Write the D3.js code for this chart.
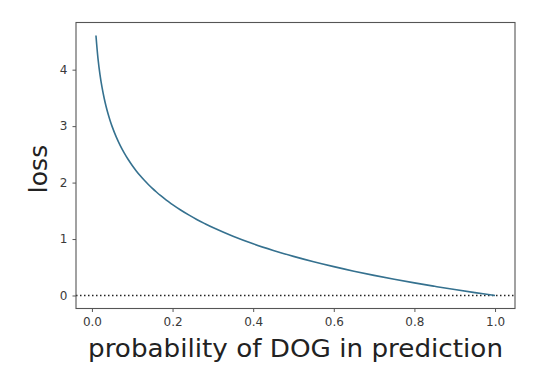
<!DOCTYPE html>
<html><head><meta charset="utf-8">
<script src="https://cdn.jsdelivr.net/npm/d3@7"></script>
<style>body{margin:0;background:#fff}svg{display:block}</style>
</head><body>
<svg id="c" width="554" height="379"></svg>
<script>
const probs = [0.01,0.015,0.02,0.025,0.03,0.035,0.04,0.045,0.05,0.06,0.07,0.08,0.09,0.10,0.11,0.12,0.13,0.14,0.15,0.16,0.17,0.18,0.19,0.20,0.22,0.24,0.26,0.28,0.30,0.35,0.40,0.45,0.50,0.55,0.60,0.65,0.70,0.75,0.80,0.85,0.90,0.95,1.00];
const losses = [4.605,4.200,3.912,3.689,3.507,3.352,3.219,3.101,2.996,2.813,2.659,2.526,2.408,2.303,2.207,2.120,2.040,1.966,1.897,1.833,1.772,1.715,1.661,1.609,1.514,1.427,1.347,1.273,1.204,1.050,0.916,0.799,0.693,0.598,0.511,0.431,0.357,0.288,0.223,0.163,0.105,0.051,0.000];
const xTicks = [0.0,0.2,0.4,0.6,0.8,1.0];
const yTicks = [0,1,2,3,4];
const xLabel = "probability of DOG in prediction";
const yLabel = "loss";

const svg = d3.select("#c");
const L=76, R=515, T=22.5, B=308.5;
const x = d3.scaleLinear().domain([-0.0395,1.0495]).range([L,R]);
const y = d3.scaleLinear().domain([-0.2303,4.8355]).range([B,T]);

const font = "DejaVu Sans, sans-serif";
const xa = svg.append("g").attr("transform",`translate(0,${B})`)
  .call(d3.axisBottom(x).tickValues(xTicks).tickFormat(d3.format(".1f")).tickSize(3.5).tickPadding(5.5));
const ya = svg.append("g").attr("transform",`translate(${L},0)`)
  .call(d3.axisLeft(y).tickValues(yTicks).tickFormat(d3.format("d")).tickSize(3.5).tickPadding(5));
[xa,ya].forEach(a=>{
  a.select(".domain").remove();
  a.selectAll("line").attr("stroke","#444").attr("stroke-width",0.9);
  a.selectAll("text").attr("font-family",font).attr("font-size",12).attr("fill","#3a3a3a");
});

svg.append("line").attr("x1",L).attr("x2",R).attr("y1",y(0)).attr("y2",y(0))
  .attr("stroke","#222").attr("stroke-width",1.5).attr("stroke-dasharray","1.5,2.5");

const line = d3.line().x((d,i)=>x(probs[i])).y(d=>y(d)).curve(d3.curveCatmullRom.alpha(0.5));
svg.append("path").datum(losses).attr("d",line).attr("fill","none")
  .attr("stroke","#35718f").attr("stroke-width",1.6);

svg.append("rect").attr("x",L).attr("y",T).attr("width",R-L).attr("height",B-T)
  .attr("fill","none").attr("stroke","#555").attr("stroke-width",1.1);

svg.append("text").attr("x",(L+R)/2).attr("y",357).attr("text-anchor","middle")
  .attr("font-family",font).attr("font-size",25).attr("fill","#222")
  .attr("textLength",415).attr("lengthAdjust","spacingAndGlyphs").text(xLabel);
svg.append("text").attr("transform",`translate(46.5,169) rotate(-90)`).attr("text-anchor","middle")
  .attr("font-family",font).attr("font-size",25).attr("fill","#222").text(yLabel);
</script>
</body></html>
